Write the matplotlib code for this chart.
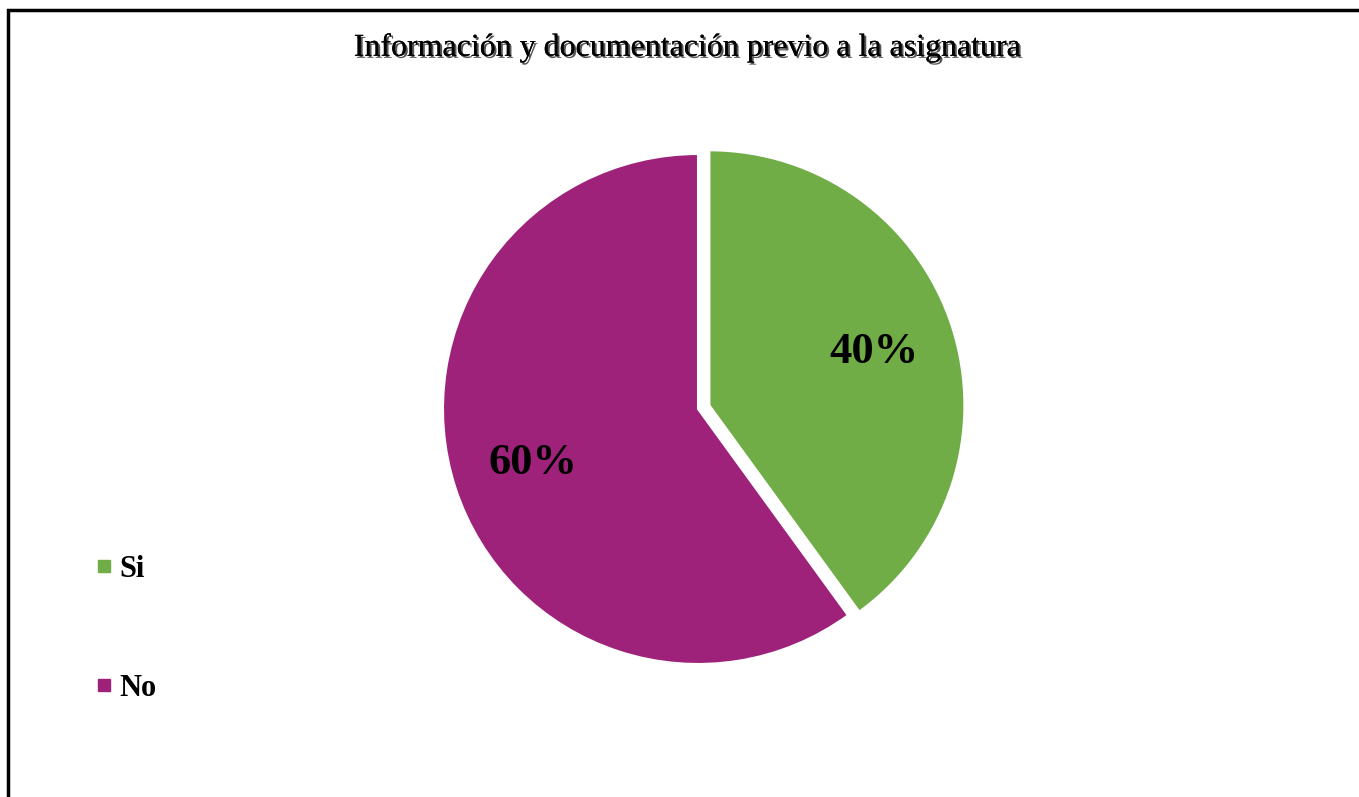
import matplotlib
matplotlib.use("Agg")
from matplotlib import pyplot as plt
from matplotlib import patheffects
from matplotlib.lines import Line2D
from matplotlib.patches import Rectangle

title = "Información y documentación previo a la asignatura"
labels = ["Si", "No"]
values = [40, 60]
colors = ["#70AD47", "#9E2279"]

W, H = 1359, 797
plt.rcParams["font.family"] = ["Liberation Serif", "DejaVu Serif"]

fig = plt.figure(figsize=(W / 100, H / 100), dpi=100)

# outer frame (right and bottom edges fall off the canvas)
fig.patches.append(
    Rectangle((8 / W, -0.1), 1.2, 1 - 10 / H + 0.1, transform=fig.transFigure,
              fill=False, edgecolor="black", linewidth=2.5)
)

# pie axes, centre (698, 409) px, radius 255 px
cx, cy, r = 698, 409, 255
lim = 1.25
ax = fig.add_axes([(cx - r * lim) / W, (H - cy - r * lim) / H,
                   2 * r * lim / W, 2 * r * lim / H])
ax.set_xlim(-lim, lim)
ax.set_ylim(-lim, lim)
ax.set_aspect("equal")
ax.axis("off")

wedges, _, autotexts = ax.pie(
    values,
    colors=colors,
    startangle=90,
    counterclock=False,
    explode=[0.047, 0],
    autopct="%d%%",
    pctdistance=0.68,
    wedgeprops=dict(edgecolor="white", linewidth=1.5),
    textprops=dict(fontsize=32, fontweight="bold", color="black"),
)

fig.text(688 / W, 1 - 48 / H, title, ha="center", va="center", fontsize=23,
         path_effects=[patheffects.withSimplePatchShadow(offset=(1.5, -1.5),
                                                         shadow_rgbFace="#444444",
                                                         alpha=0.9),
                       patheffects.Normal()])

handles = [Line2D([], [], linestyle="none", marker="s", markersize=8,
                  markerfacecolor=c, markeredgecolor=c) for c in colors]
fig.legend(handles, labels, loc="center left", bbox_to_anchor=(80 / W, 1 - 629 / H),
           frameon=False, prop=dict(size=22, weight="bold"),
           handlelength=0.6, handletextpad=0.2, labelspacing=2.95, borderpad=0)

fig.savefig("out.png", dpi=100)
